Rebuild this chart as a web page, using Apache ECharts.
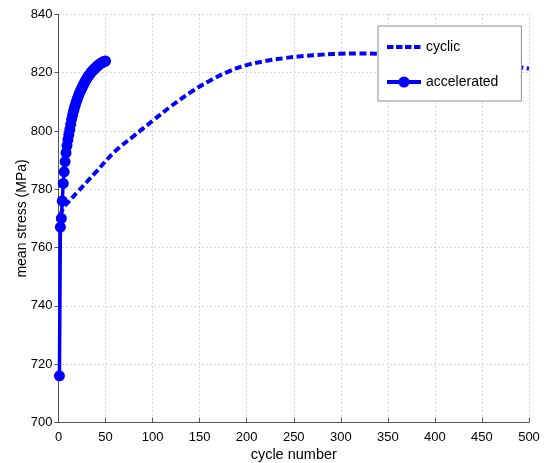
<!DOCTYPE html>
<html>
<head>
<meta charset="utf-8">
<script src="https://cdn.jsdelivr.net/npm/echarts@6/dist/echarts.min.js"></script>
<style>html,body{margin:0;padding:0;background:#fff}#c{width:557px;height:463px}</style>
</head>
<body>
<div id="c"></div>
<script>
// cyclic: cycle numbers and mean stress (MPa)
const cyclicCycles = [2, 5, 10, 20, 40, 60, 80, 100, 120, 140, 160, 180, 200, 220, 240, 260, 280, 300, 320, 340, 360, 380, 400, 420, 440, 460, 480, 500];
const cyclicStress = [771, 773.5, 775.5, 779, 786, 793, 798.3, 803.5, 808.6, 813.2, 817.1, 820.3, 822.6, 824, 825, 825.7, 826.2, 826.5, 826.6, 826.5, 826.3, 826, 825.5, 824.9, 824.2, 823.3, 822.4, 821.4];
// accelerated: cycle numbers and mean stress (MPa)
const accCycles = [1,2,3,4,5,6,7,8,9,10,11,12,13,14,15,16,17,18,19,20,21,22,23,24,25,26,27,28,29,30,31,32,33,34,35,36,37,38,39,40,41,42,43,44,45,46,47,48,49,50];
const accStress = [716,767,770,776,782,786,789.5,792.5,795,797,798.8,800.5,802.3,804,805.5,806.8,808,809.1,810.1,811,811.9,812.7,813.5,814.2,814.9,815.6,816.2,816.8,817.4,817.9,818.4,818.9,819.4,819.8,820.2,820.6,820.9,821.3,821.6,821.9,822.2,822.5,822.7,823,823.2,823.4,823.6,823.8,823.9,824];
const xTicks = {min: 0, max: 500, interval: 50};
const yTicks = {min: 700, max: 840, interval: 20};
const seriesNames = ['cyclic', 'accelerated'];

const toPairs = (xs, ys) => xs.map((x, i) => [x, ys[i]]);
const chart = echarts.init(document.getElementById('c'), null, {renderer: 'canvas'});
const FONT = 'Liberation Sans, Arial, Helvetica, sans-serif';
// dashed legend icon (tiny corner squares fix the bounding box to 34x14)
const dashIcon = 'path://M0,0h0.01v0.01h-0.01z M34,14h0.01v0.01h-0.01z M0,5h6.5v4h-6.5z M9,5h6.5v4h-6.5z M18,5h6.5v4h-6.5z M27,5h6.5v4h-6.5z';
chart.setOption({
  animation: false,
  backgroundColor: '#fff',
  grid: {left: 58.5, right: 28, top: 14.4, bottom: 40.5, containLabel: false, outerBoundsMode: 'none'},
  legend: {
    orient: 'vertical',
    left: 378, top: 26,
    padding: [14, 23, 12, 7],
    itemGap: 21,
    itemWidth: 34, itemHeight: 14,
    backgroundColor: '#fff',
    borderColor: '#8c8c8c', borderWidth: 1,
    textStyle: {fontFamily: FONT, fontSize: 14, color: '#000'},
    data: [
      {name: seriesNames[0], icon: dashIcon},
      {name: seriesNames[1], lineStyle: {width: 4}}
    ]
  },
  xAxis: {
    type: 'value', min: xTicks.min, max: xTicks.max, interval: xTicks.interval,
    name: 'cycle number', nameLocation: 'middle', nameGap: 25, nameMoveOverlap: false,
    nameTextStyle: {fontFamily: FONT, fontSize: 14.5, color: '#000'},
    axisLine: {lineStyle: {color: '#555', width: 1}},
    axisTick: {inside: true, length: 5, lineStyle: {color: '#555'}},
    axisLabel: {fontFamily: FONT, fontSize: 13, color: '#000', margin: 8},
    splitLine: {show: true, lineStyle: {color: '#b0b0b0', type: [1, 3], width: 1}}
  },
  yAxis: {
    type: 'value', min: yTicks.min, max: yTicks.max, interval: yTicks.interval,
    name: 'mean stress (MPa)', nameLocation: 'middle', nameGap: 29, nameRotate: 90, nameMoveOverlap: false,
    nameTextStyle: {fontFamily: FONT, fontSize: 14, color: '#000'},
    axisLine: {show: true, lineStyle: {color: '#555', width: 1}},
    axisTick: {show: true, inside: false, length: 4, lineStyle: {color: '#555'}},
    axisLabel: {fontFamily: FONT, fontSize: 13, color: '#000', margin: 6},
    splitLine: {show: true, lineStyle: {color: '#b0b0b0', type: [1, 3], width: 1}}
  },
  series: [
    {
      name: seriesNames[0], type: 'line', data: toPairs(cyclicCycles, cyclicStress),
      smooth: 0.4, symbol: 'none', color: '#0000ff',
      lineStyle: {color: '#0000ff', width: 4, type: [7, 3.5]}, z: 2
    },
    {
      name: seriesNames[1], type: 'line', data: toPairs(accCycles, accStress),
      symbol: 'circle', symbolSize: 11, showAllSymbol: true, color: '#0000ff',
      itemStyle: {color: '#0000ff'},
      lineStyle: {color: '#0000ff', width: 3.5}, z: 3
    }
  ]
});
</script>
</body>
</html>
